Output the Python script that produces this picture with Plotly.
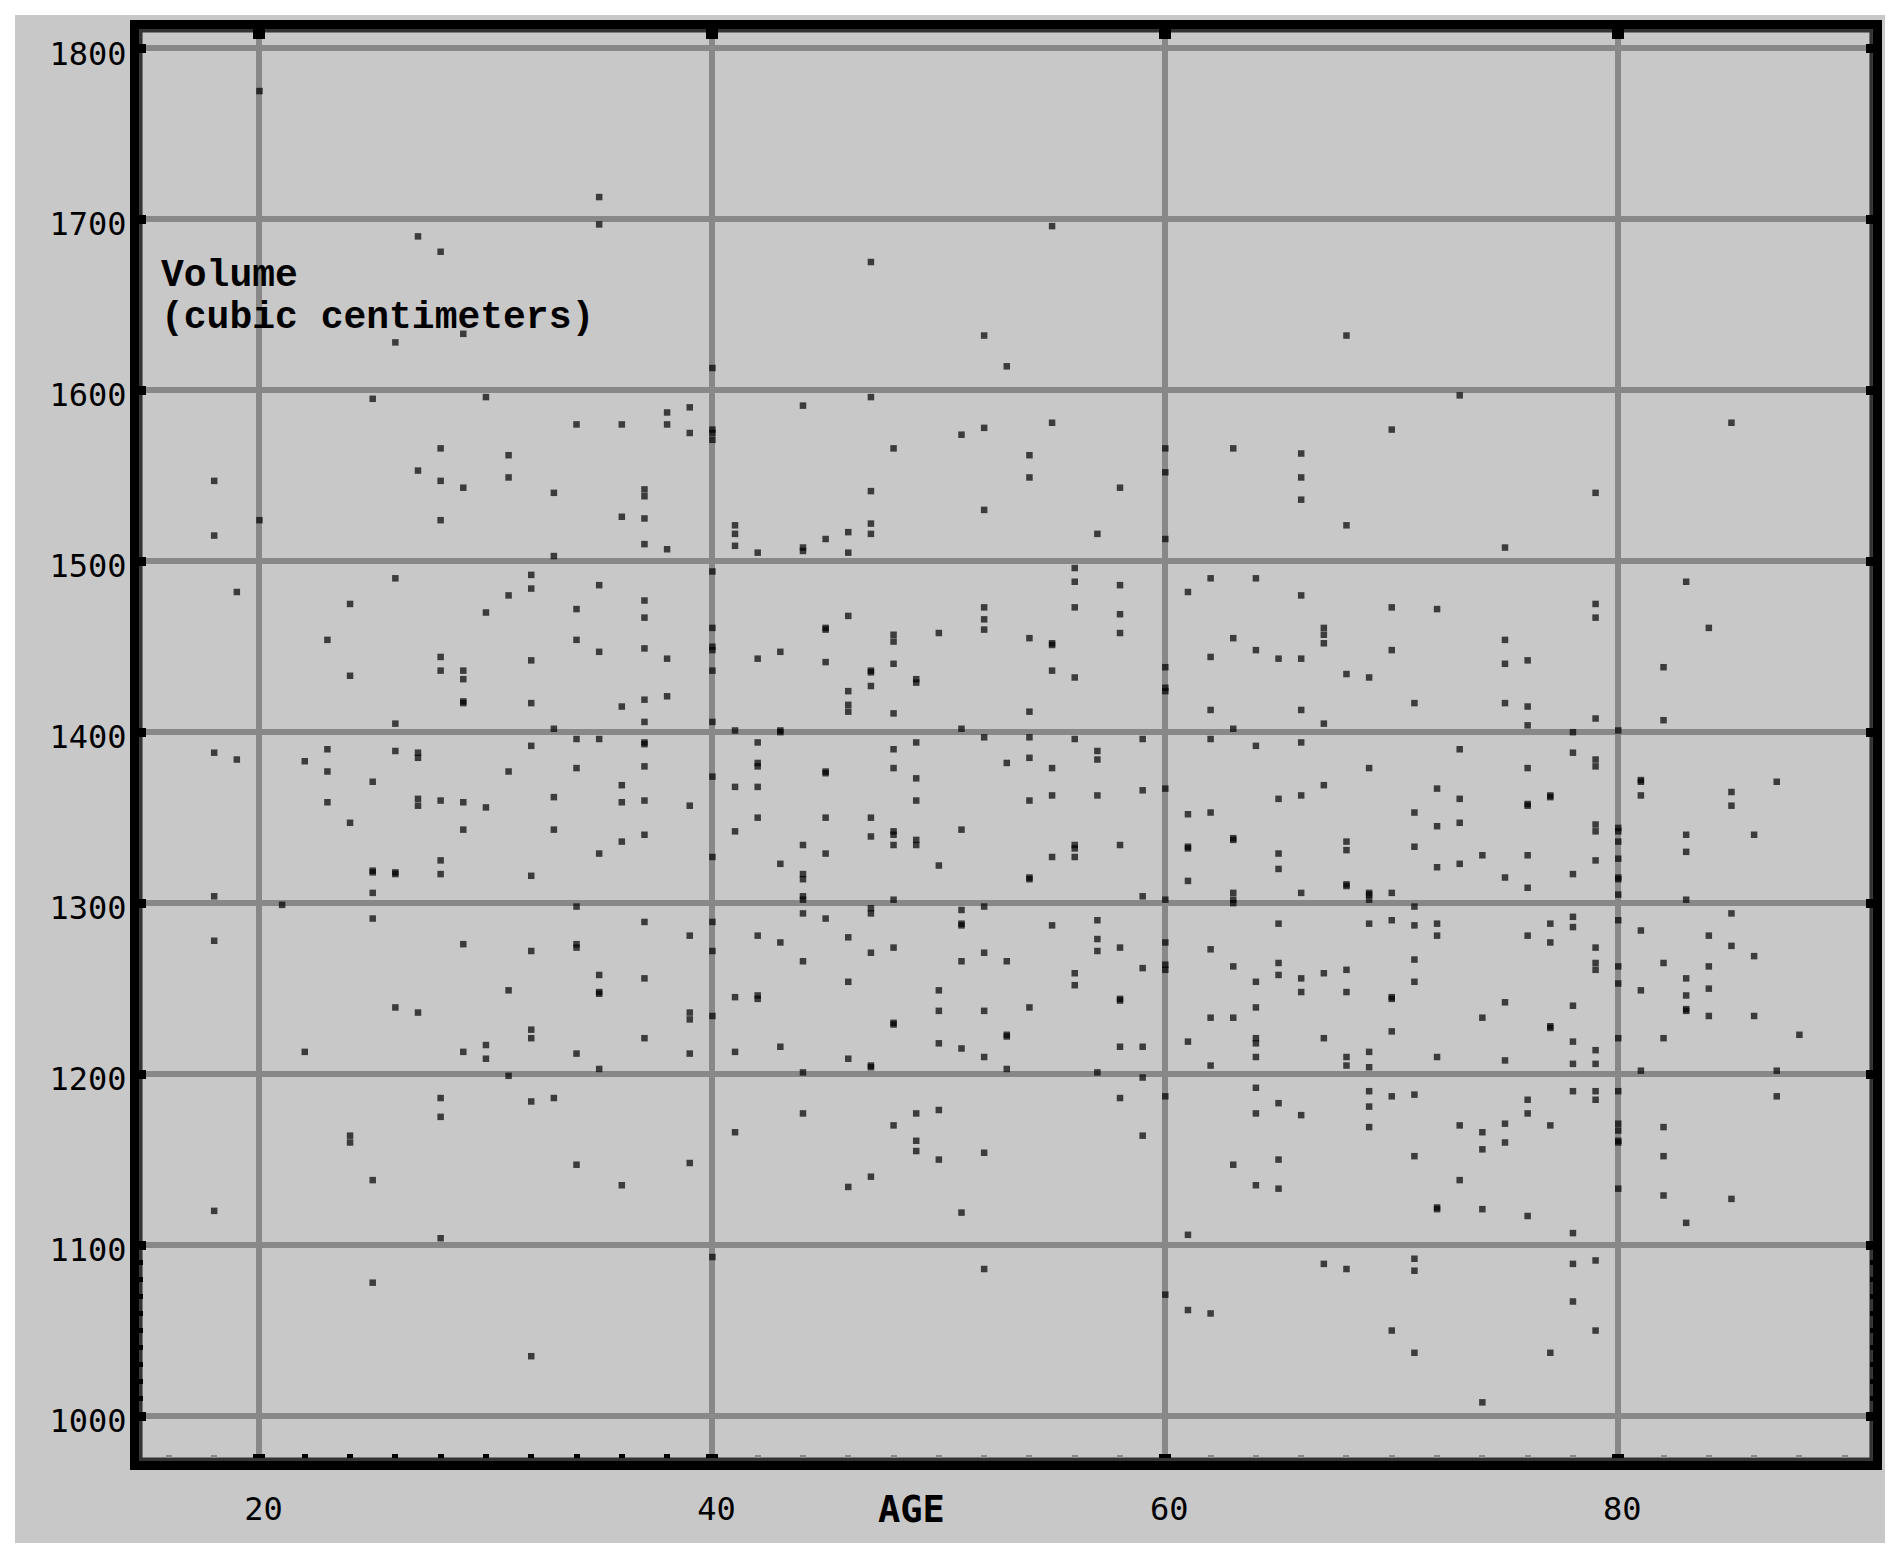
import plotly.graph_objects as go

# volumen, una lista por edad
age_18 = [1547, 1515, 1388, 1304, 1278, 1120]
age_19 = [1482, 1384]
age_20 = [1775, 1524]
age_21 = [1299]
age_22 = [1383, 1213]
age_23 = [1454, 1390, 1377, 1359]
age_24 = [1475, 1433, 1347, 1164, 1160]
age_25 = [1595, 1371, 1319, 1318, 1306, 1291, 1138, 1078]
age_26 = [1628, 1490, 1405, 1389, 1318, 1317, 1239]
age_27 = [1690, 1553, 1388, 1385, 1361, 1357, 1236]
age_28 = [1681, 1566, 1547, 1524, 1444, 1436, 1360, 1325, 1317, 1186, 1175, 1104]
age_29 = [1633, 1543, 1436, 1431, 1418, 1417, 1359, 1343, 1276, 1213]
age_30 = [1596, 1470, 1356, 1217, 1209]
age_31 = [1562, 1549, 1480, 1377, 1249, 1199]
age_32 = [1492, 1484, 1442, 1417, 1392, 1316, 1272, 1226, 1221, 1184, 1035]
age_33 = [1540, 1503, 1402, 1362, 1343, 1186]
age_34 = [1580, 1472, 1454, 1396, 1379, 1298, 1276, 1274, 1212, 1147]
age_35 = [1713, 1697, 1486, 1447, 1396, 1329, 1258, 1248, 1247, 1203]
age_36 = [1580, 1526, 1415, 1369, 1359, 1336, 1135]
age_37 = [1542, 1538, 1525, 1510, 1477, 1467, 1449, 1419, 1406, 1394, 1393, 1380, 1360, 1340, 1289, 1256, 1221]
age_38 = [1587, 1580, 1507, 1443, 1421]
age_39 = [1590, 1575, 1357, 1281, 1236, 1232, 1212, 1148]
age_40 = [1613, 1577, 1575, 1571, 1494, 1461, 1450, 1448, 1436, 1406, 1374, 1327, 1289, 1272, 1234, 1093]
age_41 = [1521, 1516, 1509, 1401, 1368, 1342, 1245, 1213, 1166]
age_42 = [1505, 1443, 1394, 1382, 1380, 1368, 1350, 1281, 1246, 1244]
age_43 = [1447, 1401, 1400, 1323, 1277, 1216]
age_44 = [1591, 1508, 1506, 1334, 1317, 1314, 1304, 1302, 1294, 1266, 1201, 1177]
age_45 = [1513, 1461, 1460, 1441, 1377, 1376, 1350, 1329, 1291]
age_46 = [1517, 1505, 1468, 1424, 1416, 1412, 1280, 1254, 1209, 1134]
age_47 = [1675, 1596, 1541, 1522, 1516, 1436, 1435, 1427, 1350, 1339, 1297, 1294, 1271, 1205, 1204, 1140]
age_48 = [1566, 1457, 1453, 1440, 1411, 1390, 1379, 1342, 1340, 1334, 1302, 1274, 1230, 1229, 1170]
age_49 = [1431, 1429, 1394, 1373, 1360, 1337, 1334, 1177, 1161, 1155]
age_50 = [1458, 1322, 1249, 1237, 1218, 1179, 1150]
age_51 = [1574, 1402, 1343, 1296, 1288, 1287, 1266, 1215, 1119]
age_52 = [1632, 1578, 1530, 1473, 1466, 1460, 1397, 1298, 1271, 1237, 1210, 1154, 1086]
age_53 = [1614, 1382, 1266, 1223, 1222, 1203]
age_54 = [1562, 1549, 1455, 1412, 1397, 1385, 1360, 1315, 1314, 1239]
age_55 = [1696, 1581, 1452, 1451, 1436, 1379, 1363, 1327, 1287]
age_56 = [1496, 1488, 1473, 1432, 1396, 1334, 1332, 1327, 1259, 1252]
age_57 = [1516, 1389, 1384, 1363, 1290, 1279, 1272, 1201]
age_58 = [1543, 1486, 1469, 1458, 1334, 1274, 1244, 1243, 1216, 1186]
age_59 = [1396, 1366, 1304, 1262, 1216, 1198, 1164]
age_60 = [1566, 1552, 1513, 1438, 1426, 1424, 1367, 1302, 1277, 1264, 1261, 1187, 1071]
age_61 = [1482, 1352, 1333, 1332, 1313, 1219, 1106, 1062]
age_62 = [1490, 1444, 1413, 1396, 1353, 1273, 1233, 1205, 1060]
age_63 = [1566, 1455, 1402, 1338, 1337, 1306, 1302, 1300, 1263, 1233, 1147]
age_64 = [1490, 1448, 1392, 1254, 1239, 1221, 1218, 1210, 1192, 1177, 1135]
age_65 = [1443, 1361, 1329, 1320, 1288, 1265, 1258, 1183, 1150, 1133]
age_66 = [1563, 1549, 1536, 1480, 1443, 1413, 1394, 1363, 1306, 1256, 1248, 1176]
age_67 = [1461, 1457, 1452, 1405, 1369, 1259, 1221, 1089]
age_68 = [1632, 1521, 1434, 1336, 1331, 1311, 1310, 1261, 1248, 1210, 1205, 1086]
age_69 = [1432, 1379, 1306, 1305, 1302, 1288, 1213, 1204, 1190, 1181, 1169]
age_70 = [1577, 1473, 1448, 1306, 1290, 1245, 1244, 1225, 1187, 1050]
age_71 = [1417, 1353, 1333, 1298, 1287, 1267, 1254, 1188, 1152, 1092, 1085, 1037]
age_72 = [1472, 1367, 1345, 1321, 1288, 1281, 1210, 1122, 1121]
age_73 = [1597, 1390, 1361, 1347, 1323, 1170, 1138]
age_74 = [1328, 1233, 1166, 1156, 1121, 1008]
age_75 = [1508, 1454, 1440, 1417, 1315, 1242, 1208, 1171, 1160]
age_76 = [1442, 1415, 1404, 1379, 1358, 1357, 1328, 1309, 1281, 1185, 1177, 1117]
age_77 = [1363, 1362, 1288, 1277, 1228, 1227, 1170, 1037]
age_78 = [1400, 1388, 1317, 1292, 1286, 1240, 1219, 1206, 1190, 1107, 1089, 1067]
age_79 = [1540, 1475, 1467, 1408, 1384, 1380, 1346, 1342, 1325, 1274, 1265, 1261, 1214, 1206, 1190, 1185, 1091, 1050]
age_80 = [1401, 1344, 1342, 1336, 1326, 1315, 1314, 1305, 1290, 1263, 1253, 1221, 1190, 1171, 1167, 1161, 1160, 1133]
age_81 = [1372, 1371, 1363, 1284, 1249, 1202]
age_82 = [1438, 1407, 1265, 1221, 1169, 1152, 1129]
age_83 = [1488, 1340, 1330, 1302, 1256, 1246, 1238, 1237, 1113]
age_84 = [1461, 1281, 1263, 1250, 1234]
age_85 = [1581, 1365, 1357, 1294, 1275, 1127]
age_86 = [1340, 1269, 1234]
age_87 = [1371, 1202, 1187]
age_88 = [1223]

x_ticks = [20, 40, 60, 80]
y_ticks = [1000, 1100, 1200, 1300, 1400, 1500, 1600, 1700, 1800]
x_dark_ticks = [22, 24, 26, 28, 30, 32, 34, 36, 38]
y_dash_ticks = [1010, 1020, 1030, 1040, 1050, 1060, 1070, 1080, 1090]

# juntar las listas por edad en dos columnas
edades = []
volumenes = []
for edad in range(18, 89):
    for v in globals()[f"age_{edad}"]:
        edades.append(edad)
        volumenes.append(v)

X_RANGE = [14.68, 91.25]
Y_RANGE = [973.7, 1811.3]

fig = go.Figure()
fig.add_trace(
    go.Scatter(
        x=edades,
        y=volumenes,
        mode="markers",
        marker=dict(symbol="square", size=6.5, color="black", opacity=0.7, line=dict(width=0)),
        showlegend=False,
    )
)
# trazas vacias, solo para que se dibujen los ejes extra de las marcas
fig.add_trace(go.Scatter(x=[None], y=[None], xaxis="x2", yaxis="y2", showlegend=False))
fig.add_trace(go.Scatter(x=[None], y=[None], xaxis="x3", yaxis="y", showlegend=False))

# la pagina deja 8 px de margen en el body, por eso 1891x1550
W, H = 1891, 1550
M_L, M_R, M_T, M_B = 131, 26, 21, 97
PW, PH = W - M_L - M_R, H - M_T - M_B


def px_x(p):
    return (p - 8 - M_L) / PW


def px_y(p):
    return (H - M_B - (p - 8)) / PH


# panel gris detras de todo
fig.add_shape(
    type="rect", xref="paper", yref="paper", layer="below",
    x0=px_x(15), x1=px_x(1885), y0=px_y(1543), y1=px_y(15),
    fillcolor="#c8c8c8", line=dict(width=0),
)
# borde interior gris oscuro del marco
fig.add_shape(
    type="rect", xref="paper", yref="paper", layer="between",
    x0=px_x(140.8), x1=px_x(1871.2), y0=px_y(1459.2), y1=px_y(30.8),
    line=dict(color="#333333", width=3.5),
)
fig.add_shape(
    type="line", xref="paper", yref="paper", layer="above",
    x0=px_x(139), x1=px_x(1873), y0=px_y(1459.5), y1=px_y(1459.5),
    line=dict(color="#333333", width=3),
)

mono = "DejaVu Sans Mono"
fig.add_annotation(text="Volume", xref="x", yref="y", x=15.55, y=1667, xanchor="left", yanchor="middle",
                   showarrow=False, font=dict(family="Liberation Mono", size=38, color="black", weight="bold"))
fig.add_annotation(text="(cubic centimeters)", xref="x", yref="y", x=15.55, y=1642.5, xanchor="left", yanchor="middle",
                   showarrow=False, font=dict(family="Liberation Mono", size=38, color="black", weight="bold"))
fig.add_annotation(text="AGE", xref="x", yref="paper", x=48.8, y=px_y(1509), xanchor="center", yanchor="middle",
                   showarrow=False, font=dict(family=mono, size=37, color="black", weight="bold"))

fig.update_layout(
    width=W,
    height=H,
    autosize=False,
    margin=dict(l=M_L, r=M_R, t=M_T, b=M_B, pad=0),
    paper_bgcolor="white",
    plot_bgcolor="#c8c8c8",
    showlegend=False,
    xaxis=dict(
        range=X_RANGE,
        tickmode="array", tickvals=x_ticks,
        showgrid=True, gridcolor="#888888", gridwidth=6, zeroline=False,
        showline=True, linecolor="black", linewidth=9, mirror=True,
        ticks="inside", ticklen=7, tickwidth=12, tickcolor="black",
        minor=dict(tickmode="linear", tick0=0, dtick=2, ticks="inside", ticklen=6, tickwidth=6, tickcolor="#8a8a8a", showgrid=False),
        tickfont=dict(family=mono, size=32, color="black"),
        ticklabelshift=4, ticklabelstandoff=12,
    ),
    yaxis=dict(
        range=Y_RANGE,
        tickmode="array", tickvals=y_ticks,
        showgrid=True, gridcolor="#888888", gridwidth=6, zeroline=False,
        showline=True, linecolor="black", linewidth=9, mirror="ticks",
        ticks="inside", ticklen=7, tickwidth=9, tickcolor="black",
        tickfont=dict(family=mono, size=32, color="black"),
        ticklabelshift=5, ticklabelstandoff=-3,
    ),
    # marcas mayores arriba
    xaxis2=dict(
        range=X_RANGE, overlaying="x", side="top", anchor="y2",
        tickmode="array", tickvals=x_ticks, ticks="inside", ticklen=10, tickwidth=12, tickcolor="black",
        showticklabels=False, showgrid=False, zeroline=False, showline=False,
    ),
    # marcas oscuras de 22 a 38 abajo
    xaxis3=dict(
        range=X_RANGE, overlaying="x", side="bottom", anchor="y",
        tickmode="array", tickvals=x_dark_ticks, ticks="inside", ticklen=7, tickwidth=6, tickcolor="black",
        showticklabels=False, showgrid=False, zeroline=False, showline=False,
    ),
    # rayitas entre 1000 y 1100 a los dos lados
    yaxis2=dict(
        range=Y_RANGE, overlaying="y", side="left", anchor="x2", mirror="ticks",
        tickmode="array", tickvals=y_dash_ticks, ticks="inside", ticklen=3.5, tickwidth=5, tickcolor="black",
        showticklabels=False, showgrid=False, zeroline=False, showline=False,
    ),
)

fig.write_html("out.html")
